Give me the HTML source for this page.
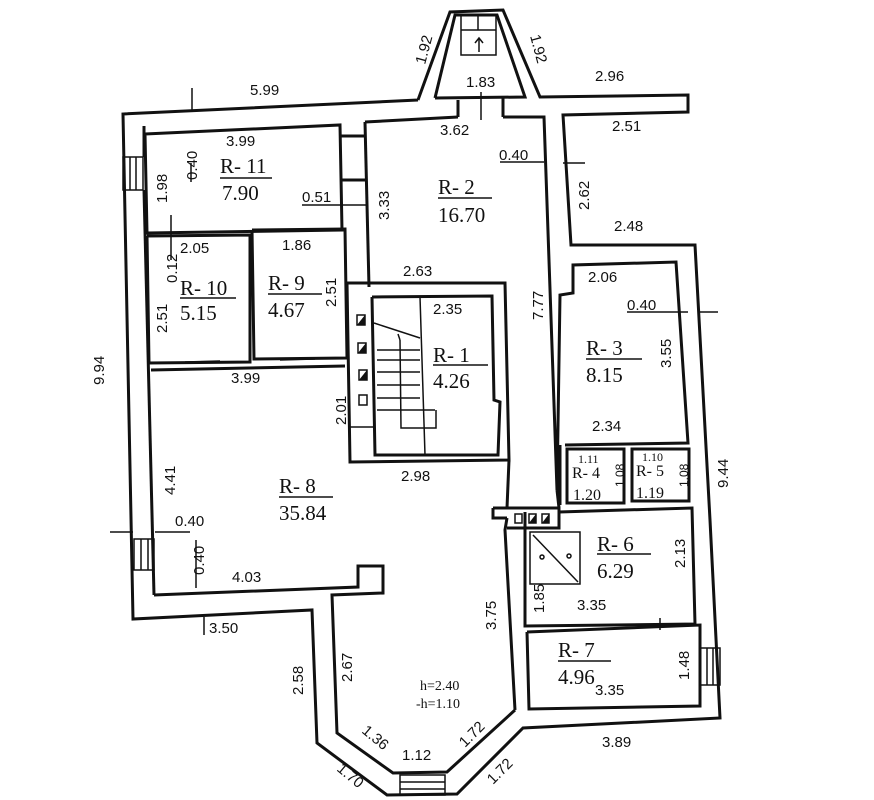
<!DOCTYPE html>
<html><head><meta charset="utf-8"><style>
html,body{margin:0;padding:0;background:#fff;width:874px;height:800px;overflow:hidden}
svg{display:block}
.w{fill:none;stroke:#111;stroke-width:3;stroke-linejoin:miter}
.t{stroke:#111;stroke-width:1.5;fill:none}
.d{font-family:"Liberation Sans",sans-serif;font-size:15px;fill:#111}
.r{font-family:"Liberation Serif",serif;font-size:21px;fill:#111}
.h{font-family:"Liberation Serif",serif;font-size:14px;fill:#111}
</style></head><body>
<svg width="874" height="800" viewBox="0 0 874 800" xmlns="http://www.w3.org/2000/svg">
<polyline class="w" points="418,100 123,114 133,619 312,610 317,743 387,795 457,794 523,728 720,718 710,520 695,245 571,245 563,115 688,112 688,95 540,97 503,10 450,12 418,100"/>
<polyline class="w" points="435,98 455,15 497,15 525,97 435,98"/>
<rect class="t" x="461" y="15" width="35" height="40"/>
<line class="t" x1="461" y1="30" x2="496" y2="30"/><line class="t" x1="478" y1="15" x2="478" y2="30"/>
<line class="t" x1="479" y1="52" x2="479" y2="38"/><polyline class="t" points="475,43 479,38 483,43"/>
<line class="w" x1="458" y1="100" x2="458" y2="117"/><line class="w" x1="503" y1="98" x2="503" y2="117"/>
<line class="t" x1="481" y1="92" x2="481" y2="120"/>
<polyline class="w" points="144,126 144,157"/>
<polyline class="w" points="144,190 154,595"/>
<rect class="t" x="123" y="157" width="20" height="33"/><line class="t" x1="130" y1="157" x2="130" y2="190"/><line class="t" x1="136" y1="157" x2="136" y2="190"/>
<rect class="t" x="134" y="539" width="20" height="31"/><line class="t" x1="141" y1="539" x2="141" y2="570"/><line class="t" x1="148" y1="539" x2="148" y2="570"/>
<polyline class="w" points="365,122 369,287"/>
<polyline class="w" points="365,122 458,117"/>
<polyline class="w" points="503,117 544,117 557,490 560,295 573,293 573,265 676,262 688,443 565,445"/>
<polyline class="w" points="145,134 340,125 342,230 147,233 145,134"/>
<line class="w" x1="340" y1="136" x2="365" y2="136"/><line class="w" x1="340" y1="180" x2="365" y2="180"/>
<polyline class="w" points="147,236 250,235 250,362 149,363 147,236"/>
<polyline class="w" points="252,230 345,229 347,358 254,359 252,230"/>
<polyline class="w" points="151,370 345,366"/>
<line class="t" x1="185" y1="362" x2="220" y2="361"/><line class="t" x1="280" y1="360" x2="315" y2="359"/>
<polyline class="w" points="347,283 505,283 509,460 350,462 347,283"/>
<polyline class="w" points="372,297 492,296 494,400 500,402 498,455 375,455 372,297"/>
<line class="t" x1="420" y1="297" x2="425" y2="455"/>
<polyline class="t" points="374,323 420,338"/>
<line class="t" x1="377" y1="350" x2="420" y2="350"/>
<line class="t" x1="377" y1="360" x2="420" y2="360"/>
<line class="t" x1="377" y1="372" x2="420" y2="372"/>
<line class="t" x1="377" y1="385" x2="420" y2="385"/>
<line class="t" x1="377" y1="398" x2="420" y2="398"/>
<line class="t" x1="377" y1="410" x2="435" y2="410"/>
<polyline class="t" points="400,340 401,428 436,428 436,410"/>
<line class="t" x1="400" y1="340" x2="398" y2="334"/>
<line class="t" x1="350" y1="427" x2="375" y2="427"/>
<g class="t"><rect x="357" y="315" width="8" height="10"/><rect x="358" y="343" width="8" height="10"/><rect x="359" y="370" width="8" height="10"/><rect x="359" y="395" width="8" height="10"/></g>
<g fill="#111"><polygon points="357,325 365,315 365,325"/><polygon points="358,353 366,343 366,353"/><polygon points="359,380 367,370 367,380"/></g>
<rect class="w" x="567" y="449" width="57" height="54"/>
<rect class="w" x="632" y="449" width="57" height="52"/>
<line class="w" x1="560" y1="445" x2="560" y2="505"/>
<polyline class="w" points="493,508 559,508 559,528 507,528"/>
<polyline class="w" points="493,508 493,518 507,518"/>
<g class="t"><rect x="515" y="514" width="7" height="9"/><rect x="529" y="514" width="7" height="9"/><rect x="542" y="514" width="7" height="9"/></g>
<g fill="#111"><polygon points="529,523 536,514 536,523"/><polygon points="542,523 549,514 549,523"/></g>
<polyline class="w" points="507,518 505,530 515,710"/>
<line class="w" x1="509" y1="460" x2="507" y2="508"/>
<line class="w" x1="557" y1="490" x2="559" y2="508"/>
<polyline class="w" points="559,512 692,508 695,624 525,626 525,512"/>
<rect class="t" x="530" y="532" width="50" height="52"/>
<line class="t" x1="533" y1="535" x2="578" y2="582"/>
<circle class="t" cx="542" cy="557" r="2"/><circle class="t" cx="569" cy="556" r="2"/>
<polyline class="w" points="527,632 700,625 700,706 529,709 527,632"/>
<line class="t" x1="660" y1="618" x2="660" y2="630"/>
<rect class="t" x="700" y="648" width="20" height="37"/><line class="t" x1="707" y1="648" x2="707" y2="685"/><line class="t" x1="713" y1="648" x2="713" y2="685"/>
<polyline class="w" points="154,595 358,587 358,566 383,566 383,593 332,595 337,733 393,773 447,772 515,710"/>
<rect class="t" x="400" y="775" width="45" height="20"/><line class="t" x1="400" y1="782" x2="445" y2="782"/><line class="t" x1="400" y1="789" x2="445" y2="789"/>
<line class="t" x1="192" y1="88" x2="192" y2="112"/>
<line class="t" x1="500" y1="162" x2="544" y2="162"/>
<line class="t" x1="563" y1="163" x2="585" y2="163"/>
<line class="t" x1="302" y1="205" x2="366" y2="205"/>
<line class="t" x1="191" y1="163" x2="191" y2="182"/>
<line class="t" x1="171" y1="215" x2="171" y2="260"/>
<line class="t" x1="627" y1="312" x2="688" y2="312"/>
<line class="t" x1="700" y1="312" x2="718" y2="312"/>
<line class="t" x1="110" y1="532" x2="133" y2="532"/>
<line class="t" x1="155" y1="532" x2="190" y2="532"/>
<line class="t" x1="196" y1="540" x2="196" y2="588"/>
<line class="t" x1="204" y1="617" x2="204" y2="635"/>
<g class="d">
<text x="250" y="95">5.99</text>
<text x="466" y="87">1.83</text>
<text x="595" y="81">2.96</text>
<text x="440" y="135">3.62</text>
<text x="499" y="160">0.40</text>
<text x="612" y="131">2.51</text>
<text x="614" y="231">2.48</text>
<text x="226" y="146">3.99</text>
<text x="302" y="202">0.51</text>
<text x="180" y="253">2.05</text>
<text x="282" y="250">1.86</text>
<text x="403" y="276">2.63</text>
<text x="433" y="314">2.35</text>
<text x="588" y="282">2.06</text>
<text x="627" y="310">0.40</text>
<text x="592" y="431">2.34</text>
<text x="231" y="383">3.99</text>
<text x="401" y="481">2.98</text>
<text x="175" y="526">0.40</text>
<text x="232" y="582">4.03</text>
<text x="209" y="633">3.50</text>
<text x="577" y="610">3.35</text>
<text x="595" y="695">3.35</text>
<text x="602" y="747">3.89</text>
<text x="402" y="760">1.12</text>
</g>
<g class="d">
<text transform="translate(425,65) rotate(-75)">1.92</text>
<text transform="translate(530,36) rotate(75)">1.92</text>
<text transform="translate(589,210) rotate(-90)">2.62</text>
<text transform="translate(389,220) rotate(-90)">3.33</text>
<text transform="translate(197,180) rotate(-90)">0.40</text>
<text transform="translate(167,203) rotate(-90)">1.98</text>
<text transform="translate(177,283) rotate(-90)">0.12</text>
<text transform="translate(167,333) rotate(-90)">2.51</text>
<text transform="translate(336,307) rotate(-90)">2.51</text>
<text transform="translate(543,320) rotate(-90)">7.77</text>
<text transform="translate(671,368) rotate(-90)">3.55</text>
<text transform="translate(346,425) rotate(-90)">2.01</text>
<text transform="translate(104,385) rotate(-90)">9.94</text>
<text transform="translate(175,495) rotate(-90)">4.41</text>
<text transform="translate(204,575) rotate(-90)">0.40</text>
<text transform="translate(685,568) rotate(-90)">2.13</text>
<text transform="translate(544,613) rotate(-90)">1.85</text>
<text transform="translate(496,630) rotate(-90)">3.75</text>
<text transform="translate(689,680) rotate(-90)">1.48</text>
<text transform="translate(303,695) rotate(-90)">2.58</text>
<text transform="translate(352,682) rotate(-90)">2.67</text>
<text transform="translate(728,488) rotate(-90)">9.44</text>
<text transform="translate(361,732) rotate(40)">1.36</text>
<text transform="translate(465,748) rotate(-45)">1.72</text>
<text transform="translate(336,770) rotate(40)">1.70</text>
<text transform="translate(493,785) rotate(-45)">1.72</text>
<text transform="translate(624,487) rotate(-90)" style="font-size:12px">1.08</text>
<text transform="translate(688,487) rotate(-90)" style="font-size:12px">1.08</text>
</g>
<g class="r">
<text x="220" y="173">R- 11</text><text x="222" y="200">7.90</text>
<line class="t" x1="220" y1="178" x2="272" y2="178"/>
<text x="438" y="194">R- 2</text><text x="438" y="222">16.70</text>
<line class="t" x1="438" y1="198" x2="492" y2="198"/>
<text x="180" y="295">R- 10</text><text x="180" y="320">5.15</text>
<line class="t" x1="180" y1="298" x2="236" y2="298"/>
<text x="268" y="290">R- 9</text><text x="268" y="317">4.67</text>
<line class="t" x1="268" y1="294" x2="322" y2="294"/>
<text x="433" y="362">R- 1</text><text x="433" y="388">4.26</text>
<line class="t" x1="433" y1="365" x2="488" y2="365"/>
<text x="586" y="355">R- 3</text><text x="586" y="382">8.15</text>
<line class="t" x1="586" y1="359" x2="642" y2="359"/>
<text x="279" y="493">R- 8</text><text x="279" y="520">35.84</text>
<line class="t" x1="279" y1="497" x2="333" y2="497"/>
<text x="597" y="551">R- 6</text><text x="597" y="578">6.29</text>
<line class="t" x1="597" y1="554" x2="651" y2="554"/>
<text x="558" y="657">R- 7</text><text x="558" y="684">4.96</text>
<line class="t" x1="558" y1="661" x2="611" y2="661"/>
</g>
<g class="r" style="font-size:16px">
<text x="572" y="478">R- 4</text><text x="573" y="500">1.20</text>
<text x="636" y="476">R- 5</text><text x="636" y="498">1.19</text>
</g>
<g class="h">
<text x="578" y="463" style="font-size:12px">1.11</text><text x="642" y="461" style="font-size:12px">1.10</text>
<text x="420" y="690">h=2.40</text><text x="416" y="708">-h=1.10</text>
</g>
</svg>
</body></html>
